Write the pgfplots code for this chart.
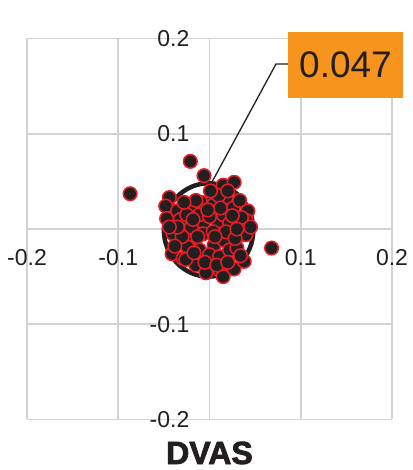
\documentclass[border=0pt]{standalone}
\usepackage{fontspec}
\setmainfont{Liberation Sans}
\newfontfamily\heavyfont{Liberation Sans}[BoldFeatures={FakeBold=2.5}]
\usepackage{pgfplots}
\pgfplotsset{compat=1.18}
\definecolor{dark}{HTML}{231F20}
\definecolor{ptred}{HTML}{ED1C24}
\definecolor{gridgray}{HTML}{D3D3D4}
\definecolor{boxorange}{HTML}{F7941D}
\pgfplotstableread{
x y
-0.087 0.037
-0.021 0.071
-0.006 0.056
0.068 -0.020
0.015 0.046
0.027 0.049
-0.044 0.033
-0.048 0.024
-0.047 0.011
-0.035 0.019
-0.020 0.023
-0.009 0.028
0.004 0.032
0.004 0.025
0.018 0.033
0.026 0.022
0.042 0.019
0.040 0.009
-0.040 -0.005
-0.022 -0.012
-0.024 -0.019
-0.041 -0.026
-0.015 -0.038
-0.004 -0.046
0.011 -0.043
0.015 -0.050
0.027 -0.042
0.038 -0.034
0.031 -0.008
0.040 -0.006
0.005 -0.017
0.016 -0.012
0.009 0.008
-0.007 0.006
-0.020 0.002
-0.011 0.015
0.000 0.013
0.015 0.015
0.022 0.006
-0.007 -0.005
0.004 -0.003
0.018 -0.003
-0.011 -0.022
0.000 -0.027
0.011 -0.029
-0.029 -0.031
0.022 -0.022
-0.026 -0.032
-0.032 0.010
-0.030 -0.008
-0.035 0.002
-0.015 0.030
0.010 0.035
0.033 0.030
0.035 0.012
0.030 -0.020
0.034 -0.028
-0.017 -0.025
-0.005 -0.035
0.008 -0.038
0.020 -0.035
-0.025 0.015
-0.013 -0.008
0.025 0.014
0.012 0.022
-0.002 0.020
-0.028 0.028
0.020 0.040
-0.038 -0.018
0.028 -0.010
0.045 0.002
-0.044 0.002
0.006 -0.008
-0.018 0.010
0.030 0.000
0.001 0.040
}\pts
\begin{document}
\begin{tikzpicture}
\useasboundingbox (-27pt,-50.5pt) rectangle (385pt,419.5pt);
\begin{axis}[
  at={(0,0)}, anchor=south west,
  scale only axis, width=365pt, height=381pt,
  xmin=-0.2, xmax=0.2, ymin=-0.2, ymax=0.2,
  axis lines=middle,
  axis line style={-, draw=gridgray, line width=1.6pt},
  grid=major,
  grid style={draw=gridgray, line width=1.6pt},
  xtick={-0.2,-0.1,0.1,0.2}, ytick={-0.2,-0.1,0.1,0.2},
  xticklabels={-0.2,-0.1,0.1,0.2},
  yticklabels={-0.2,-0.1,0.1,0.2},
  major tick length=0pt,
  tick style={draw=none},
  xticklabel style={font=\fontsize{23}{27}\selectfont, text=dark, anchor=center, inner sep=0pt, yshift=-29pt},
  yticklabel style={font=\fontsize{23}{27}\selectfont, text=dark, anchor=east, inner sep=0pt, xshift=-20pt},
  clip=false,
]
\draw[line width=4.5pt, draw=dark] (axis cs:-0.001,-0.001) ellipse [x radius=0.049, y radius=0.049];
\addplot[only marks, mark=*, mark size=6.8pt, mark options={fill=dark, draw=ptred, line width=1.5pt}] table[x=x, y=y] {\pts};
\node[anchor=base, text=dark, font=\heavyfont\bfseries\fontsize{32}{36}\selectfont] at (rel axis cs:0.5,0) [yshift=-44.5pt] {DVAS};
\end{axis}
\draw[line width=1.3pt, draw=dark] (261pt,355.5pt) -- (249pt,355.5pt) -- (185pt,237.5pt);
\fill[boxorange] (261pt,321.5pt) rectangle (376pt,387.5pt);
\node[text=dark, font=\fontsize{37}{42}\selectfont, inner sep=0pt] at (318.5pt,354.5pt) {0.047};
\end{tikzpicture}
\end{document}
